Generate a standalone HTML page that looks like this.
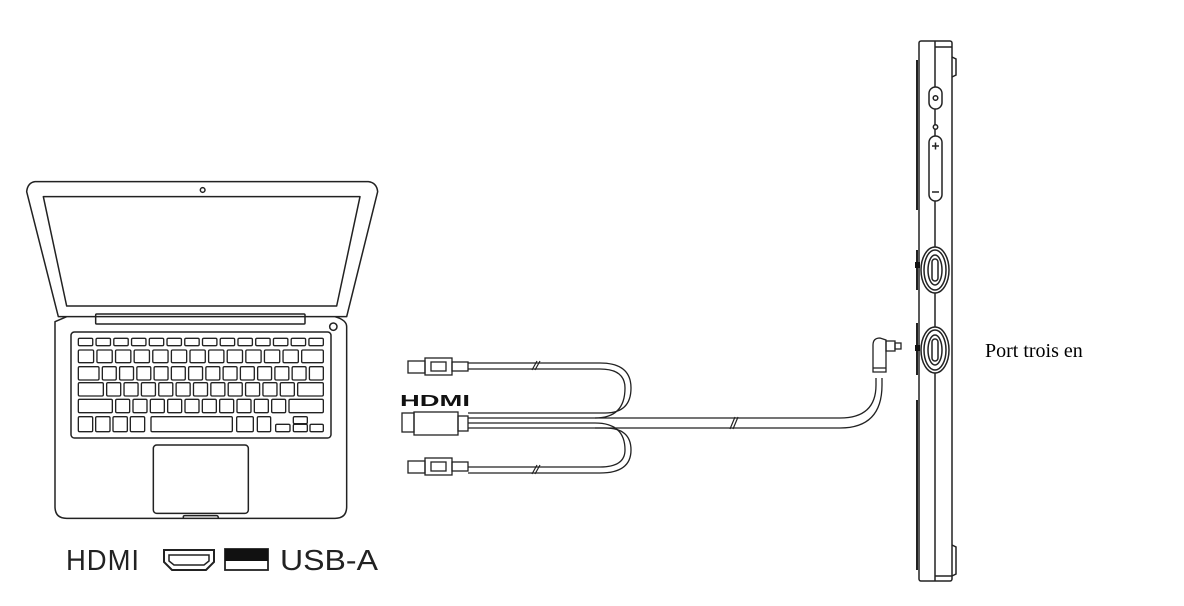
<!DOCTYPE html>
<html><head><meta charset="utf-8"><style>
html,body{margin:0;padding:0;background:#fff;width:1184px;height:606px;overflow:hidden}
svg{display:block}
</style></head><body>
<svg id="s" width="1184" height="606" viewBox="0 0 1184 606" xmlns="http://www.w3.org/2000/svg" fill="none" stroke="#222" stroke-width="1.4">
<g id="lap" transform="translate(15,170) scale(0.33333)" stroke-width="4.5" stroke-linejoin="round">
  <path d="M60,35 L1060,35 Q1085,38 1088,65 L995,440 L130,440 L35,65 Q38,38 60,35 Z"/>
  <path d="M85,80 L1035,80 L965,408 L155,408 Z"/>
  <circle cx="563" cy="60" r="7"/>
  <rect x="242" y="432" width="628" height="30" rx="3"/>
  <path d="M155,440 L120,455 Q120,455 120,470 L120,1010 Q120,1045 155,1045 L960,1045 Q995,1045 995,1010 L995,470 Q995,450 960,440"/>
  <circle cx="955" cy="470" r="11"/>
  <rect x="168" y="486" width="780" height="318" rx="10"/>
  <rect x="415" y="825" width="285" height="205" rx="10"/>
  <path d="M505,1045 L505,1040 Q505,1037 510,1037 L605,1037 Q610,1037 610,1045"/>
  <g id="keys" stroke-width="4"></g>
</g>
<text x="66" y="570" font-family="Liberation Sans, sans-serif" font-size="29" fill="#222" stroke="none" letter-spacing="1" textLength="74" lengthAdjust="spacingAndGlyphs">HDMI</text>
<path d="M164,550 L214,550 L214,562 L206,570 L172,570 L164,562 Z" stroke-width="2"/>
<path d="M169,555 L209,555 L209,561 L204,565 L174,565 L169,561 Z" stroke-width="1.5"/>
<rect x="225" y="549" width="43" height="21" stroke-width="1.8"/>
<rect x="225" y="549" width="43" height="12" fill="#111" stroke="none"/>
<text x="280" y="570" font-family="Liberation Sans, sans-serif" font-size="29" fill="#222" stroke="none" textLength="98" lengthAdjust="spacingAndGlyphs">USB-A</text>

<g stroke-width="1.3">
  <rect x="408" y="361" width="17" height="12"/>
  <rect x="425" y="358" width="27" height="17"/>
  <rect x="431" y="362" width="15" height="9"/>
  <rect x="452" y="362" width="16" height="9"/>
  <path d="M468,363 L600,363 Q631,363 631,388 Q631,413 605,413 L468,413"/>
  <path d="M468,369 L600,369 Q625,369 625,388 Q625,418 595,418 L468,418"/>
  <rect x="408" y="461" width="17" height="12"/>
  <rect x="425" y="458" width="27" height="17"/>
  <rect x="431" y="462" width="15" height="9"/>
  <rect x="452" y="462" width="16" height="9"/>
  <path d="M468,473 L600,473 Q631,473 631,450 Q631,428 605,428 L468,428"/>
  <path d="M468,467 L600,467 Q625,467 625,450 Q625,423 595,423 L468,423"/>
  <path d="M595,418 L840,418 Q876,418 876,385 L876,378"/>
  <path d="M595,428 L840,428 Q882,428 882,385 L882,378"/>
  <rect x="402" y="413" width="12" height="19"/>
  <rect x="414" y="412" width="44" height="23"/>
  <rect x="458" y="416" width="10" height="15"/>
  <path d="M873,372 L873,345 Q873,338 880,338 L886,340 L886,372 Z"/>
  <path d="M873,368 L886,368"/>
  <rect x="886" y="341" width="9" height="10"/>
  <rect x="895" y="343" width="6" height="6"/>
  <path d="M532,370 L537,361 M535,370 L540,361" stroke-width="1.2"/>
  <path d="M532,474 L537,465 M535,474 L540,465" stroke-width="1.2"/>
  <path d="M730,429 L735,417 M733,429 L738,417" stroke-width="1.2"/>
</g>
<text x="400" y="406" font-family="Liberation Sans, sans-serif" font-size="16" font-weight="bold" fill="#111" stroke="none" textLength="70" lengthAdjust="spacingAndGlyphs">HDMI</text>

<g stroke-width="1.5">
  <rect x="919" y="41" width="33" height="540" rx="2"/>
  <line x1="935" y1="41" x2="935" y2="581"/>
  <line x1="935" y1="47" x2="952" y2="47"/>
  <line x1="935" y1="576" x2="952" y2="576"/>
  <path d="M952,57 L956,59 L956,75 L952,77"/>
  <path d="M952,545 L956,547 L956,574 L952,576"/>
  <path d="M917,60 L917,210 M917,250 L917,290 M917,323 L917,375 M917,400 L917,570" stroke-width="2"/>
  <rect x="915" y="262" width="5" height="6" fill="#111" stroke="none"/>
  <rect x="915" y="345" width="5" height="6" fill="#111" stroke="none"/>
  <rect x="929" y="87" width="13" height="22" rx="6.5" fill="#fff"/>
  <circle cx="935.5" cy="98" r="2.3"/>
  <circle cx="935.5" cy="127" r="2.2" fill="#fff"/>
  <rect x="929" y="136" width="13" height="65" rx="6.5" fill="#fff"/>
  <path d="M932,146 L939,146 M935.5,142.5 L935.5,149.5 M932,192 L939,192"/>
  <ellipse cx="935" cy="270" rx="14" ry="23" fill="#fff"/>
  <ellipse cx="935" cy="270" rx="11" ry="20"/>
  <ellipse cx="935" cy="270" rx="7" ry="15"/>
  <rect x="932" y="259" width="6" height="22" rx="3"/>
  <ellipse cx="935" cy="350" rx="14" ry="23" fill="#fff"/>
  <ellipse cx="935" cy="350" rx="11" ry="20"/>
  <ellipse cx="935" cy="350" rx="7" ry="15"/>
  <rect x="932" y="339" width="6" height="22" rx="3"/>
</g>
<text x="985" y="357" font-family="Liberation Serif, serif" font-size="20" fill="#000" stroke="none">Port trois en</text>
</svg>
<script>
(function(){
var g=document.getElementById('keys'),ns='http://www.w3.org/2000/svg';
function k(x,y,w,h){var r=document.createElementNS(ns,'rect');r.setAttribute('x',x);r.setAttribute('y',y);r.setAttribute('width',w);r.setAttribute('height',h);r.setAttribute('rx',4);g.appendChild(r);}
var x0=190,x1=925,gap=10;
function row(y,h,first,n,last){var avail=x1-x0-(first?first+gap:0)-(last?last+gap:0)-(n-1)*gap;var w=avail/n;var x=x0;
 if(first){k(x,y,first,h);x+=first+gap;}
 for(var i=0;i<n;i++){k(x,y,w,h);x+=w+gap;}
 if(last){k(x,y,last,h);}}
row(505,22,0,14,0);
row(540,38,0,12,65);
row(590,40,62,13,0);
row(638,40,75,11,77);
row(688,40,102,10,103);
var y=740,h=45;
for(var i=0;i<4;i++)k(190+i*52,y,43,h);
k(408,y,244,h);k(665,y,50,h);k(727,y,40,h);
k(782,763,43,22);k(835,740,42,21);k(835,763,42,22);k(885,763,40,22);
})();
</script>
</body></html>
